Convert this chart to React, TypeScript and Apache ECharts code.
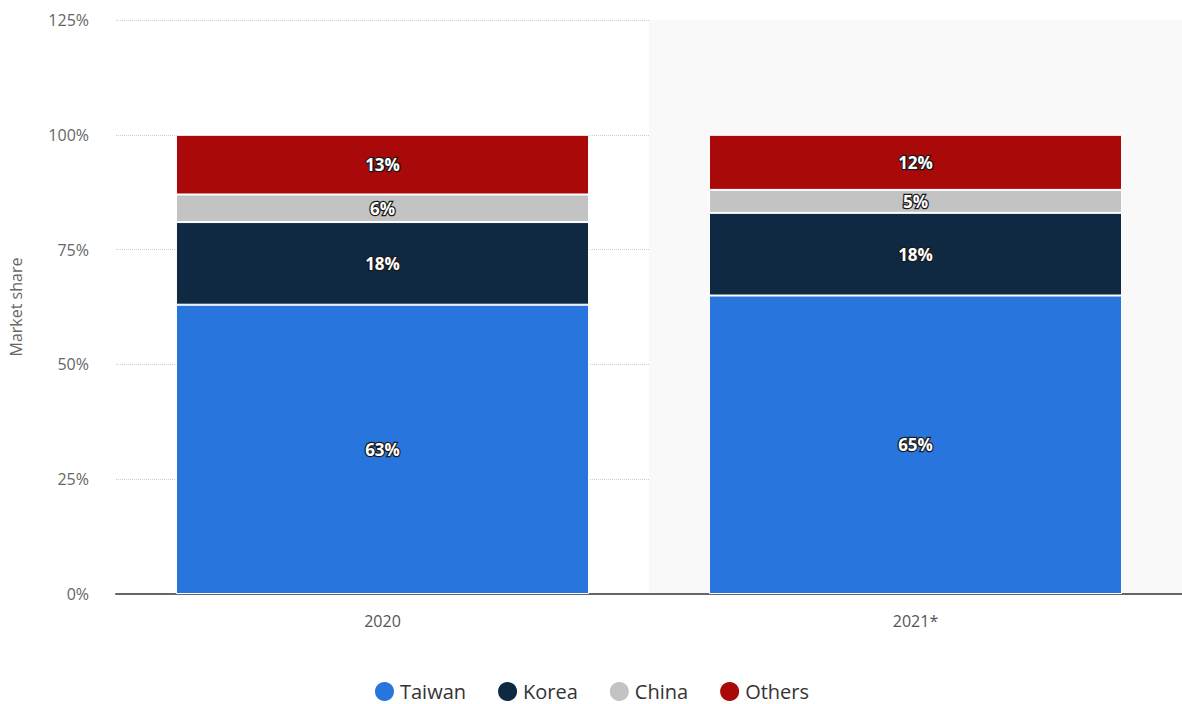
import React, { useEffect, useRef } from "react";
import * as echarts from "echarts";

const categories = ["2020", "2021*"];
const taiwan = [63, 65];
const korea = [18, 18];
const china = [6, 5];
const others = [13, 12];
const yTicks = [0, 25, 50, 75, 100, 125];

const FONT = "'Open Sans', 'Liberation Sans', Arial, sans-serif";

export default function App() {
  const ref = useRef<HTMLDivElement>(null);
  useEffect(() => {
    if (!ref.current) return;
    const chart = echarts.init(ref.current, undefined, { renderer: "svg" });
    const label = {
      show: true,
      position: "inside",
      formatter: (p: any) => p.value + "%",
      color: "#fff",
      fontWeight: "bold",
      fontSize: 17,
      fontFamily: FONT,
      textBorderColor: "#1a1a1a",
      textBorderWidth: 2.5,
    };
    const mk = (name: string, data: number[], color: string) => ({
      name,
      type: "bar",
      stack: "total",
      data,
      barWidth: "77.5%",
      itemStyle: { color, borderColor: "#fff", borderWidth: 1 },
      label,
    });
    chart.setOption({
      animation: false,
      grid: { left: 113, right: 0, top: 20, bottom: 110, containLabel: false },
      legend: {
        top: 675,
        left: "center",
        icon: "circle",
        itemWidth: 21,
        itemHeight: 21,
        itemGap: 30,
        textStyle: { fontSize: 20, color: "#333", fontFamily: FONT, lineHeight: 22 },
        data: ["Taiwan", "Korea", "China", "Others"],
      },
      xAxis: {
        type: "category",
        data: categories,
        axisLine: { lineStyle: { color: "#666", width: 2 } },
        axisTick: { show: false },
        axisLabel: { color: "#555", fontSize: 16, margin: 19, fontFamily: FONT },
        splitArea: { show: true, areaStyle: { color: ["rgba(0,0,0,0)", "#f9f9f9"] } },
      },
      yAxis: {
        type: "value",
        min: yTicks[0],
        max: yTicks[yTicks.length - 1],
        interval: 25,
        name: "Market share",
        nameLocation: "middle",
        nameGap: 92,
        nameTextStyle: { color: "#666", fontSize: 16, fontFamily: FONT },
        axisLine: { show: false },
        axisTick: { show: false },
        axisLabel: { color: "#666", fontSize: 16, margin: 27, formatter: "{value}%", fontFamily: FONT },
        splitLine: { lineStyle: { color: "#ccc", type: "dotted" } },
      },
      series: [
        mk("Taiwan", taiwan, "#2876dd"),
        mk("Korea", korea, "#0f2942"),
        mk("China", china, "#c3c3c3"),
        mk("Others", others, "#a90909"),
      ],
    });
    return () => chart.dispose();
  }, []);
  return (
    <div
      ref={ref}
      style={{ position: "absolute", left: 0, top: 0, width: 1182, height: 704 }}
    />
  );
}
